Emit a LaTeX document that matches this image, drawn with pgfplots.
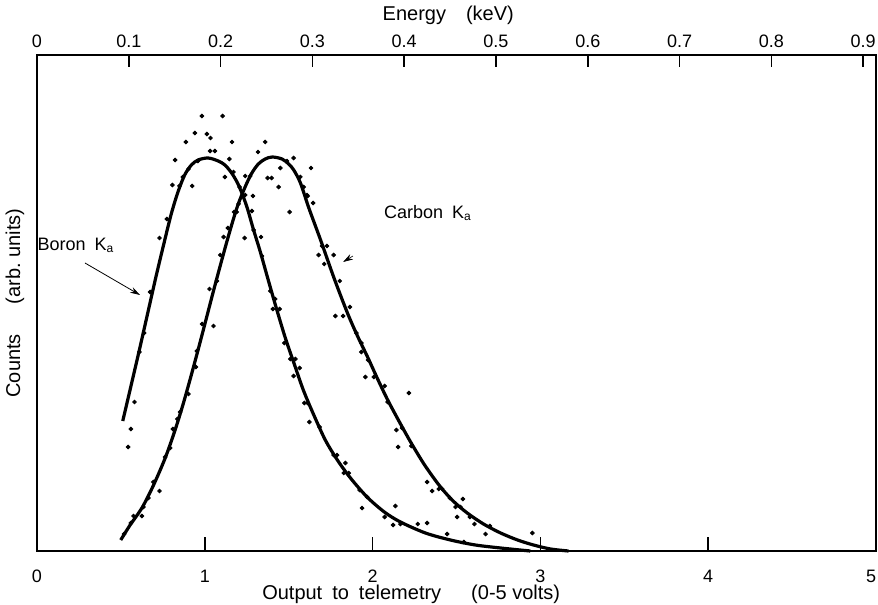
\documentclass[border=0pt]{standalone}
\usepackage{pgfplots}
\pgfplotsset{compat=1.18}
\usepackage{fontspec}
\setmainfont{Liberation Sans}
\usetikzlibrary{calc,arrows.meta}

\pgfplotstableread{
V h
0.511 130
0.560 165
0.610 201
0.660 238
0.710 275
0.760 310
0.800 337
0.840 359
0.880 376
0.920 386
0.960 391
1.020 393
1.080 390
1.120 386
1.160 378
1.195 368
1.223 357
1.253 343
1.289 322
1.331 299
1.378 271
1.426 243
1.480 213
1.533 187
1.587 161
1.647 137
1.718 111
1.790 91
1.868 73
1.967 54
2.070 39
2.166 29
2.315 18
2.464 11
2.613 6
2.763 3
2.940 0
}\boroncurve

\pgfplotstableread{
V h
0.499 11
0.555 26
0.625 43
0.692 65
0.764 93
0.823 121
0.871 147
0.913 172
0.955 198
1.002 228
1.050 259
1.098 289
1.146 318
1.193 344
1.235 362
1.277 377
1.319 387
1.360 392
1.402 394
1.460 392
1.500 387
1.530 381
1.570 368
1.620 343
1.690 311
1.770 273
1.850 238
1.910 215
1.970 194
2.030 172
2.090 151
2.160 129
2.230 108
2.310 86
2.400 65
2.480 50
2.564 38
2.661 27
2.763 18
2.864 11
2.959 6
3.061 2
3.168 0
}\carboncurve

\pgfplotstableread{
V h
0.543 104
0.559 122
0.581 149
0.610 199
0.638 218
0.674 259
0.730 313
0.774 332
0.807 366
0.823 391
0.849 365
0.869 374
0.887 409
0.903 382
0.925 365
0.941 418
0.959 390
0.983 435
1.012 417
1.032 400
1.034 413
1.060 400
1.106 435
1.120 374
1.146 392
1.162 409
1.171 379
1.190 339
1.207 364
1.237 313
1.287 355
1.281 340
1.291 321
1.335 314
1.341 295
1.390 260
1.406 242
1.420 252
1.446 242
1.474 208
1.510 192
1.529 175
1.540 192
1.565 183
1.593 148
1.613 148
1.623 129
1.684 124
1.768 96
1.788 96
1.838 88
1.828 78
1.858 78
1.923 61
1.937 43
1.967 54
2.072 34
2.136 45
2.122 26
2.166 27
2.269 27
2.325 28
2.444 17
2.544 9
}\borondots

\pgfplotstableread{
V h
0.519 17
0.559 28
0.575 35
0.625 35
0.634 44
0.664 53
0.694 69
0.730 60
0.764 94
0.794 103
0.810 122
0.837 132
0.853 139
0.903 157
0.947 184
0.953 200
0.984 227
1.028 262
1.052 225
1.072 270
1.092 296
1.112 314
1.138 323
1.175 339
1.201 347
1.241 356
1.241 375
1.271 375
1.317 399
1.360 409
1.374 373
1.398 373
1.440 364
1.450 383
1.490 390
1.505 339
1.529 393
1.569 374
1.589 364
1.609 356
1.613 355
1.633 383
1.645 348
1.678 296
1.699 305
1.712 287
1.728 305
1.768 296
1.778 235
1.804 270
1.824 235
1.864 244
1.903 218
1.933 208
1.933 199
1.973 191
1.957 174
2.007 174
2.072 165
2.090 149
2.216 158
2.142 121
2.176 123
2.152 104
2.231 105
2.325 69
2.355 60
2.394 62
2.415 62
2.460 53
2.538 52
2.494 44
2.524 44
2.504 34
2.580 34
2.607 27
2.699 25
2.673 17
2.952 18
}\carbondots

\begin{document}
\begin{tikzpicture}
\begin{axis}[
  scale only axis, width=419.5pt, height=248pt,
  xmin=0, xmax=5, ymin=0, ymax=496,
  axis line style={line width=0.7pt},
  xtick={0,1,2,3,4,5}, xticklabels={0,1,2,3,4,\llap{5}},
  xtick pos=bottom, ytick=\empty,
  tick align=inside, major tick length=7pt,
  tick style={line width=0.8pt, black},
  xticklabel style={font=\fontsize{9}{10}\selectfont, yshift=-6pt},
  clip=false,
]
\addplot[black, line width=1.6pt, smooth, tension=0.5] table[x=V,y=h]{\boroncurve};
\addplot[black, line width=1.6pt, smooth, tension=0.5] table[x=V,y=h]{\carboncurve};
\addplot[only marks, mark=*, mark size=0.95pt, black] table[x=V,y=h]{\borondots};
\addplot[only marks, mark=*, mark size=0.95pt, black] table[x=V,y=h]{\carbondots};

\node[font=\fontsize{9}{10}\selectfont] at (axis cs:0.232,306) {Boron\enspace K\textsubscript{a}};
\node[font=\fontsize{9}{10}\selectfont] at (axis cs:2.33,338) {Carbon\enspace K\textsubscript{a}};
\draw[-{Stealth[length=5pt,width=3pt]}, line width=0.4pt] (axis cs:0.286,288) -- (axis cs:0.614,256);
\draw[-{Stealth[length=5pt,width=3pt]}, line width=0.3pt] (axis cs:1.883,295) -- (axis cs:1.824,289);

\node[rotate=90, font=\fontsize{10}{11}\selectfont] at ($(rel axis cs:0,0.5)+(-11pt,0)$) {Counts\quad\enspace(arb.\ units)};
\node[font=\fontsize{10}{11}\selectfont] at ($(axis cs:2.23,0)+(0,-21.5pt)$) {Output\enspace to\enspace telemetry\quad\enspace(0-5 volts)};

\coordinate (BL) at (rel axis cs:0,0);
\coordinate (TR) at (rel axis cs:1,1);
\end{axis}
\begin{axis}[
  scale only axis, width=419.5pt, height=248pt,
  xmin=0, xmax=0.914, ymin=0, ymax=1,
  axis x line*=top, axis y line=none,
  axis line style={line width=0.7pt},
  xtick={0,0.1,0.2,0.3,0.4,0.5,0.6,0.7,0.8,0.9},
  xticklabels={0,0.1,0.2,0.3,0.4,0.5,0.6,0.7,0.8,0.9},
  tick align=inside, major tick length=6pt,
  tick style={line width=0.8pt, black},
  xticklabel style={font=\fontsize{9}{10}\selectfont},
  clip=false,
]
\node[font=\fontsize{10}{11}\selectfont] at ($(axis cs:0.448,1)+(0,20pt)$) {Energy\quad(keV)};
\end{axis}
\pgfresetboundingbox
\path ($(BL)+(-18.5pt,-26.5pt)$) rectangle ($(TR)+(1pt,27.5pt)$);
\end{tikzpicture}
\end{document}
